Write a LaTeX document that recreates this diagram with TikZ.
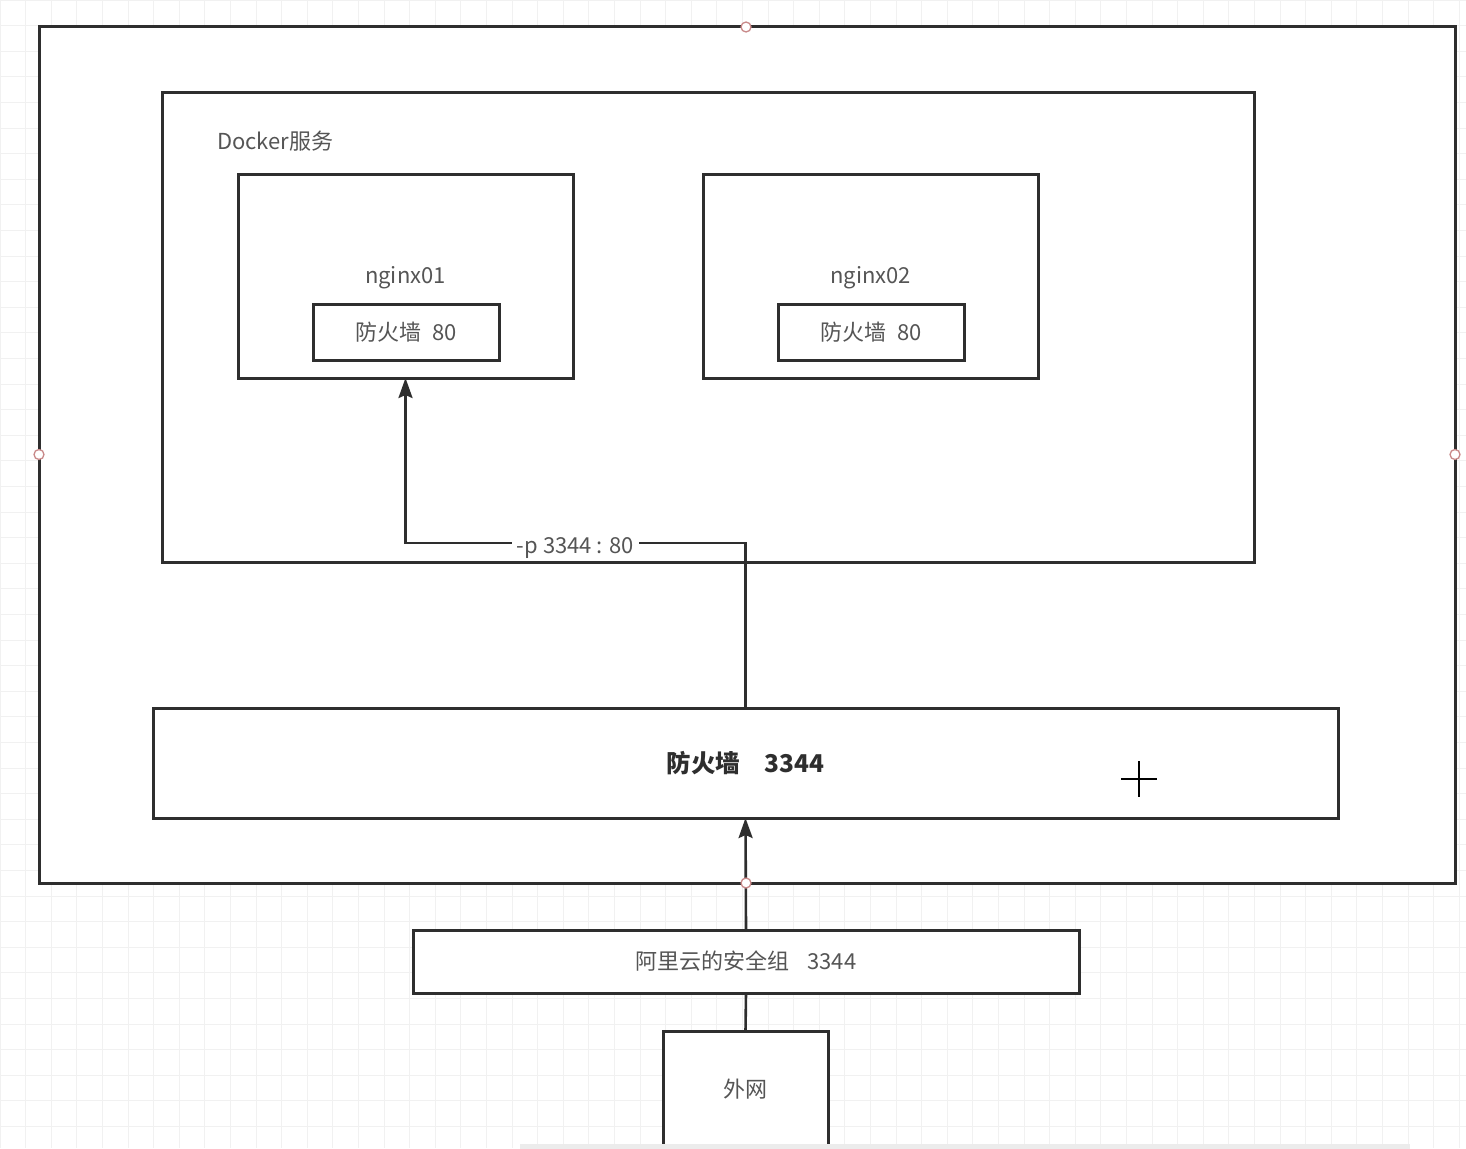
\documentclass[tikz,border=0pt]{standalone}
\usepackage{fontspec}
\setmainfont{Noto Sans CJK SC}
\usetikzlibrary{arrows.meta}
\definecolor{edge}{HTML}{2E2E2E}
\definecolor{txt}{HTML}{555555}
\definecolor{gridc}{HTML}{F1F1F1}
\definecolor{pt}{HTML}{C98A8A}
\tikzset{
  box/.style={draw=edge, line width=3pt, fill=white, outer sep=0pt, inner sep=0pt, anchor=north west, text=txt, font=\fontsize{22}{26}\selectfont},
  lbl/.style={text=txt, font=\fontsize{22}{26}\selectfont, inner sep=1pt},
  arr/.style={draw=edge, line width=2.6pt, -{Stealth[length=20pt,width=14pt,inset=3pt]}},
  conn/.style={draw=edge, line width=2.6pt},
  cpt/.style={circle, draw=pt, fill=white, line width=1.3pt, minimum size=10pt, inner sep=0pt},
}
\begin{document}
\begin{tikzpicture}[x=1pt,y=-1pt]
\useasboundingbox (0,0) rectangle (1466,1148);
\clip (0,0) rectangle (1466,1148);
% background grid
\foreach \gx in {0,25.6,...,1466} {\draw[gridc, line width=0.8pt] (\gx,0) -- (\gx,1148);}
\foreach \gy in {0,25.6,...,1148} {\draw[gridc, line width=0.8pt] (0,\gy) -- (1466,\gy);}
% outer box
\node[box, minimum width=1416pt, minimum height=856pt] (outer) at (39,27) {};
% docker box
\node[box, minimum width=1092pt, minimum height=470pt] (docker) at (162,92) {};
\node[lbl, anchor=west] (dlabel) at (216,141) {Docker服务};
% nginx boxes
\node[box, minimum width=335pt, minimum height=204pt] (n1) at (238,174) {};
\node[lbl] (n1l) at (405.5,278) {nginx01};
\node[box, minimum width=186pt, minimum height=56pt] (f1) at (313,304) {防火墙\hspace{0.5em}80};
\node[box, minimum width=335pt, minimum height=204pt] (n2) at (703,174) {};
\node[lbl] (n2l) at (870.5,278) {nginx02};
\node[box, minimum width=186pt, minimum height=56pt] (f2) at (778,304) {防火墙\hspace{0.5em}80};
% big firewall
\node[box, minimum width=1185pt, minimum height=110pt, text=edge, font=\fontsize{24.5}{28}\selectfont\bfseries] (fw) at (153,708) {防火墙\hspace{1em}3344};
% aliyun
\node[box, minimum width=666pt, minimum height=63pt] (ali) at (413,930) {阿里云的安全组\hspace{0.8em}3344};
% outside net
\node[box, minimum width=165pt, minimum height=140pt] (net) at (663,1031) {};
\node[lbl] (netl) at (745.5,1089) {外网};
% connectors
\coordinate (bend) at (745.5,543);
\draw[arr] (fw.north) -- (bend) -| node[pos=0.25, fill=white, lbl, inner xsep=5pt, inner ysep=0pt, yshift=-5pt]{-p 3344 : 80} (n1.south);
\draw[arr] (ali.north) -- (fw.south);
\draw[conn] (ali.south) -- (net.north);
% plus sign
\draw[black, line width=2.6pt] (1121,779) -- (1157,779);
\draw[black, line width=2.6pt] (1139,761) -- (1139,797);
% connection points
\node[cpt] (c1) at (746,27) {};
\node[cpt] (c2) at (39,454.5) {};
\node[cpt] (c3) at (1455,454.5) {};
\node[cpt] (c4) at (746,883) {};
% scroll bar
\fill[gray!15] (520,1144) rectangle (1410,1150);
\end{tikzpicture}
\end{document}
